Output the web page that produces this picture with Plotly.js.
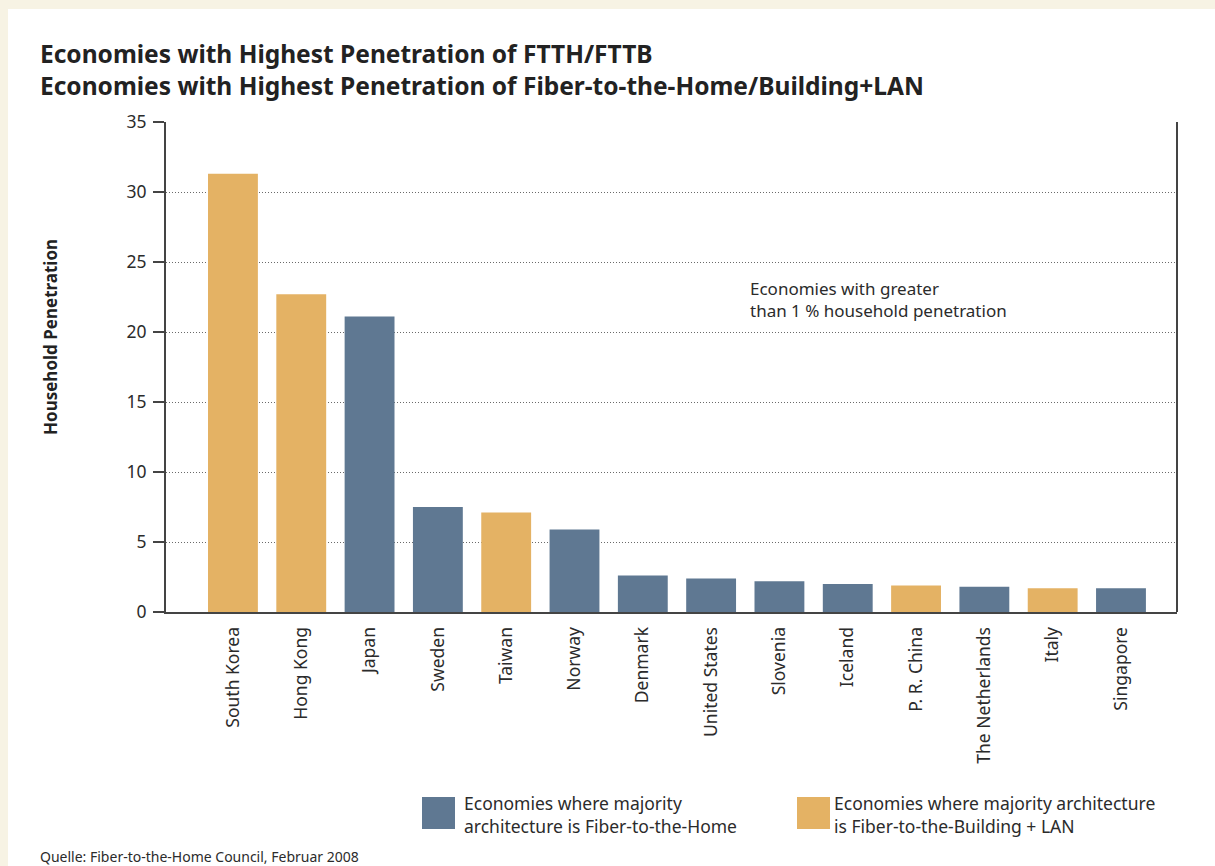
<!DOCTYPE html>
<html>
<head>
<meta charset="utf-8">
<script src="https://cdn.plot.ly/plotly-3.0.1.min.js"></script>
<style>
  html, body { margin: 0; padding: 0; background: #f7f3e4; width: 1215px; height: 866px; overflow: hidden; }
  #chart { position: absolute; left: 8px; top: 9px; width: 1207px; height: 857px; background: #fff; }
</style>
</head>
<body>
<div id="chart"></div>
<script>
const countries = ["South Korea", "Hong Kong", "Japan", "Sweden", "Taiwan", "Norway", "Denmark",
  "United States", "Slovenia", "Iceland", "P. R. China", "The Netherlands", "Italy", "Singapore"];
const penetration = [31.3, 22.7, 21.1, 7.5, 7.1, 5.9, 2.6, 2.4, 2.2, 2.0, 1.9, 1.8, 1.7, 1.7];
const architecture = ["FTTB", "FTTB", "FTTH", "FTTH", "FTTB", "FTTH", "FTTH",
  "FTTH", "FTTH", "FTTH", "FTTB", "FTTH", "FTTB", "FTTH"];
const yTicks = [0, 5, 10, 15, 20, 25, 30, 35];
const legendLabels = {
  FTTH: "Economies where majority<br>architecture is Fiber-to-the-Home",
  FTTB: "Economies where majority architecture<br>is Fiber-to-the-Building + LAN"
};
const titleLines = ["Economies with Highest Penetration of FTTH/FTTB",
  "Economies with Highest Penetration of Fiber-to-the-Home/Building+LAN"];
const yTitle = "Household Penetration";
const noteText = "Economies with greater<br>than 1 % household penetration";
const sourceText = "Quelle: Fiber-to-the-Home Council, Februar 2008";

const colors = { FTTH: "#5f7892", FTTB: "#e4b264" };
const FONT = "Noto Sans, Open Sans, sans-serif";
const TXT = "#2b2b2b";

// page-pixel -> paper helpers (plot area: x 166..1177, y 122..612 in page px)
const L = 166, R = 1177, T = 122, B = 612;
const px = x => (x - L) / (R - L);
const py = y => (B - y) / (B - T);

const trace = {
  type: "bar",
  x: countries,
  y: penetration,
  marker: { color: architecture.map(a => colors[a]), line: { width: 0 } },
  hoverinfo: "x+y",
  showlegend: false
};

const layout = {
  width: 1207, height: 857,
  margin: { l: L - 8, r: 1215 - R, t: T - 9, b: 866 - B, pad: 0 },
  paper_bgcolor: "#ffffff",
  plot_bgcolor: "#ffffff",
  bargap: 0.27,
  showlegend: false,
  font: { family: FONT, color: TXT },
  xaxis: {
    type: "category",
    range: [-0.98, 13.82],
    showline: true, linecolor: "#444", linewidth: 2,
    ticks: "", showgrid: false, zeroline: false,
    tickangle: -90,
    tickfont: { family: FONT, size: 17.5, color: TXT },
    ticklabelstandoff: 6,
    fixedrange: true
  },
  yaxis: {
    range: [0, 35],
    tickvals: yTicks,
    ticktext: yTicks.map(String),
    ticks: "outside", ticklen: 11, tickwidth: 2, tickcolor: "#444",
    showline: true, linecolor: "#444", linewidth: 2,
    showgrid: true, gridcolor: "#6a6a6a", gridwidth: 1, griddash: "1px,2px",
    zeroline: false,
    tickfont: { family: FONT, size: 17.5, color: TXT },
    ticklabelstandoff: 3,
    fixedrange: true
  },
  shapes: [
    { type: "line", xref: "paper", yref: "paper", x0: 1, x1: 1, y0: 0, y1: 1,
      line: { color: "#444", width: 2 } },
    { type: "rect", xref: "paper", yref: "paper",
      x0: px(422), x1: px(455), y0: py(797), y1: py(829),
      fillcolor: colors.FTTH, line: { width: 0 } },
    { type: "rect", xref: "paper", yref: "paper",
      x0: px(797), x1: px(830), y0: py(797), y1: py(829),
      fillcolor: colors.FTTB, line: { width: 0 } }
  ],
  annotations: [
    { xref: "paper", yref: "paper", x: px(38), y: py(35), xanchor: "left", yanchor: "top",
      text: titleLines.map(t => "<b>" + t + "</b>").join("<br>"), align: "left", showarrow: false,
      font: { family: FONT, size: 24.5, color: "#222" } },
    { xref: "paper", yref: "paper", x: px(50), y: py(337), xanchor: "center", yanchor: "middle",
      text: "<b>" + yTitle + "</b>", textangle: -90, showarrow: false,
      font: { family: FONT, size: 17, color: "#222" } },
    { xref: "paper", yref: "paper", x: px(748), y: py(299), xanchor: "left", yanchor: "middle",
      text: noteText, align: "left", showarrow: false,
      font: { family: FONT, size: 17, color: TXT } },
    { xref: "paper", yref: "paper", x: px(462), y: py(814), xanchor: "left", yanchor: "middle",
      text: legendLabels.FTTH, align: "left", showarrow: false,
      font: { family: FONT, size: 17.5, color: TXT } },
    { xref: "paper", yref: "paper", x: px(832), y: py(814), xanchor: "left", yanchor: "middle",
      text: legendLabels.FTTB, align: "left", showarrow: false,
      font: { family: FONT, size: 17.5, color: TXT } },
    { xref: "paper", yref: "paper", x: px(38), y: py(856), xanchor: "left", yanchor: "middle",
      text: sourceText, align: "left", showarrow: false,
      font: { family: FONT, size: 14, color: TXT } }
  ]
};

Plotly.newPlot("chart", [trace], layout, { displayModeBar: false, staticPlot: true });
</script>
</body>
</html>
